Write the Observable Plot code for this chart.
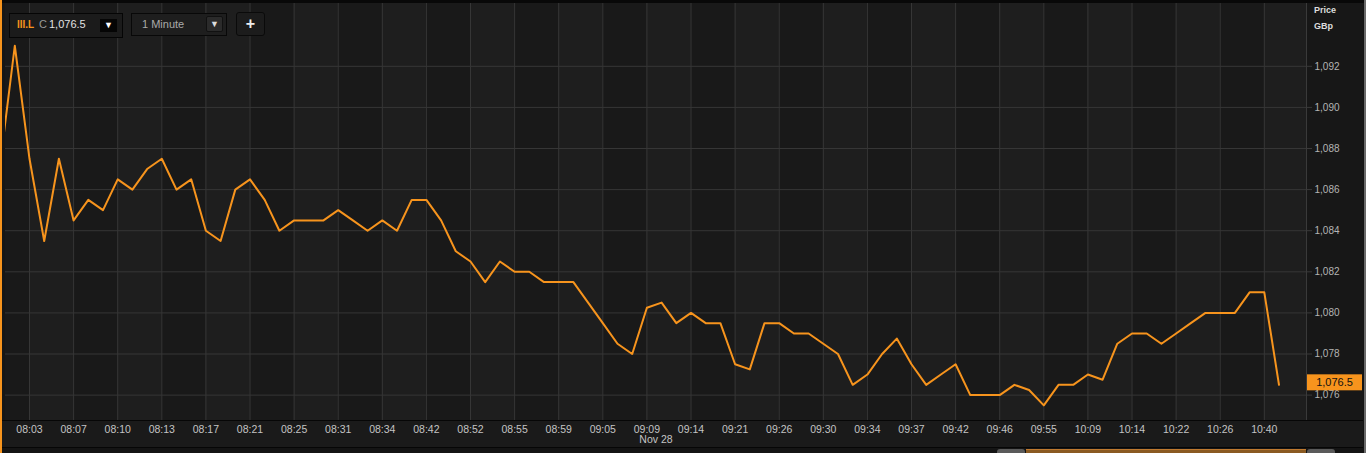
<!DOCTYPE html>
<html><head><meta charset="utf-8">
<script src="https://cdn.jsdelivr.net/npm/d3@7"></script>
<script src="https://cdn.jsdelivr.net/npm/@observablehq/plot@0.6"></script>
<style>
html,body{margin:0;padding:0;background:#141414;}
#wrap{position:relative;width:1366px;height:453px;overflow:hidden;background:#141414;font-family:"Liberation Sans",Arial,sans-serif;}
.abs{position:absolute;box-sizing:border-box;}
</style></head><body>
<div id="wrap">
  <div class="abs" style="left:0;top:0;width:1366px;height:3px;background:#080808"></div>
  <div class="abs" style="left:2px;top:3px;width:3px;height:417px;background:#161616"></div>
  <div class="abs" style="left:5px;top:3px;width:1301px;height:417px;background:#1e1e1e"></div>
  <div class="abs" style="left:1306px;top:3px;width:57px;height:417px;background:#171717;border-left:1px solid #3a3a3a"></div>
  <div class="abs" style="left:2px;top:420px;width:1361px;height:28px;background:#1a1a1a;border-top:1px solid #060606;border-bottom:1px solid #060606"></div>
  <div class="abs" style="left:997px;top:449px;width:28px;height:6px;background:#5a5a5a;border-radius:3px 3px 0 0"></div>
  <div class="abs" style="left:1026px;top:449px;width:280px;height:6px;background:#8a5a22;border-top:1px solid #c07a30"></div>
  <div class="abs" style="left:1307px;top:449px;width:28px;height:6px;background:#5a5a5a;border-radius:3px 3px 0 0"></div>
  <div class="abs" style="left:0;top:0;width:2px;height:453px;background:#f7941d"></div>
  <div class="abs" style="left:1364px;top:0;width:2px;height:453px;background:#6a6a6a"></div>
  <div id="chart" class="abs" style="left:0;top:0"></div>
  <!-- widgets -->
  <div class="abs" style="left:9px;top:13px;width:114px;height:25px;background:#1b1b1b;border:1px solid #050505"></div>
  <div class="abs" style="left:17px;top:19px;font-size:10px;font-weight:bold;color:#f7941d">III.L</div>
  <div class="abs" style="left:39px;top:18px;font-size:11px;color:#999">C</div>
  <div class="abs" style="left:49px;top:18px;font-size:11px;color:#e2e2e2">1,076.5</div>
  <div class="abs" style="left:100px;top:19px;width:17px;height:13px;background:#050505;color:#fff;font-size:9px;text-align:center;line-height:13px">▼</div>
  <div class="abs" style="left:131px;top:13px;width:96px;height:23px;background:#1e1e1e;border:1px solid #080808"></div>
  <div class="abs" style="left:142px;top:18px;font-size:11px;color:#aaa">1 Minute</div>
  <div class="abs" style="left:206px;top:16px;width:17px;height:16px;background:#2b2b2b;border:1px solid #111;border-radius:2px;color:#ddd;font-size:9px;text-align:center;line-height:15px">▼</div>
  <div class="abs" style="left:236px;top:12px;width:29px;height:24px;background:#1c1c1c;border:1px solid #0a0a0a;border-radius:3px;color:#eee;font-size:16px;font-weight:bold;text-align:center;line-height:21px">+</div>
  <div class="abs" style="left:1314px;top:5px;font-size:9px;font-weight:bold;color:#dddddd">Price</div>
  <div class="abs" style="left:1314px;top:21px;font-size:9px;font-weight:bold;color:#dddddd">GBp</div>
</div>
<script>
// ---- data ----
const prices = [
  1087.25, 1093, 1087.5, 1083.5, 1087.5, 1084.5, 1085.5, 1085, 1086.5, 1086,
  1087, 1087.5, 1086, 1086.5, 1084, 1083.5, 1086, 1086.5, 1085.5, 1084,
  1084.5, 1084.5, 1084.5, 1085, 1084.5, 1084, 1084.5, 1084, 1085.5, 1085.5,
  1084.5, 1083, 1082.5, 1081.5, 1082.5, 1082, 1082, 1081.5, 1081.5, 1081.5,
  1080.5, 1079.5, 1078.5, 1078, 1080.25, 1080.5, 1079.5, 1080, 1079.5, 1079.5,
  1077.5, 1077.25, 1079.5, 1079.5, 1079, 1079, 1078.5, 1078, 1076.5, 1077,
  1078, 1078.75, 1077.5, 1076.5, 1077, 1077.5, 1076, 1076, 1076, 1076.5,
  1076.25, 1075.5, 1076.5, 1076.5, 1077, 1076.75, 1078.5, 1079, 1079, 1078.5,
  1079, 1079.5, 1080, 1080, 1080, 1081, 1081, 1076.5
];
const tickLabels = ["08:03","08:07","08:10","08:13","08:17","08:21","08:25","08:31","08:34","08:42",
  "08:52","08:55","08:59","09:05","09:09","09:14","09:21","09:26","09:30","09:34",
  "09:37","09:42","09:46","09:55","10:09","10:14","10:22","10:26","10:40"];
const tickFirst = 2, tickStep = 3; // a label every third one-minute bar
const yTicks = [1076, 1078, 1080, 1082, 1084, 1086, 1088, 1090, 1092];
const dateLabel = "Nov 28";
const lastLabel = "1,076.5";

const tickIdx = tickLabels.map((_, k) => tickFirst + k * tickStep);
const bands = [];
for (let k = -1; k < tickLabels.length; k++) {
  if (k % 2 !== 0) bands.push({a: tickFirst + k * tickStep, b: tickFirst + (k + 1) * tickStep});
}
const last = prices[prices.length - 1];

const chart = Plot.plot({
  width: 1366, height: 453,
  marginLeft: 5, marginRight: 60, marginTop: 3, marginBottom: 33,
  style: {background: "transparent", fontFamily: "'Liberation Sans', Arial, sans-serif", overflow: "visible"},
  x: {type: "linear", domain: [0, prices.length - 1], range: [-0.4, 1278.5]},
  y: {domain: [1076, 1092], range: [394.6, 65.8]},
  marks: [
    Plot.rect(bands, {x1: "a", x2: "b", fill: "#191919", clip: true}),
    Plot.ruleX(tickIdx, {stroke: "#363636", strokeWidth: 1, clip: true}),
    Plot.ruleY(yTicks, {stroke: "#363636", strokeWidth: 1}),
    Plot.axisY(yTicks, {anchor: "right", tickSize: 5, tickPadding: 3, stroke: "#3a3a3a",
      tickFormat: d3.format(","), fill: "#b4b4b4", fontSize: 10, label: null}),
    Plot.axisX(tickIdx, {anchor: "bottom", tickSize: 0, tickPadding: 5,
      tickFormat: d => tickLabels[tickIdx.indexOf(d)], fill: "#c4c4c4", fontSize: 10.5, label: null}),
    Plot.text([dateLabel], {frameAnchor: "bottom", dy: 22, fill: "#c4c4c4", fontSize: 10.5}),
    Plot.line(prices, {x: (d, i) => i, y: d => d, stroke: "#f7941d", strokeWidth: 2, clip: true})
  ]
});
document.getElementById("chart").appendChild(chart);

// last-price flag on the right axis, positioned with the chart's own y scale
const yy = chart.scale("y").apply(last);
const g = d3.select(chart).append("g");
g.append("rect").attr("x", 1307).attr("y", yy - 10).attr("width", 55).attr("height", 16).attr("fill", "#f7941d");
g.append("text").attr("x", 1334.5).attr("y", yy - 2).attr("text-anchor", "middle")
  .attr("dominant-baseline", "central").attr("font-size", 11).attr("fill", "#111").text(lastLabel);
</script>
</body></html>
